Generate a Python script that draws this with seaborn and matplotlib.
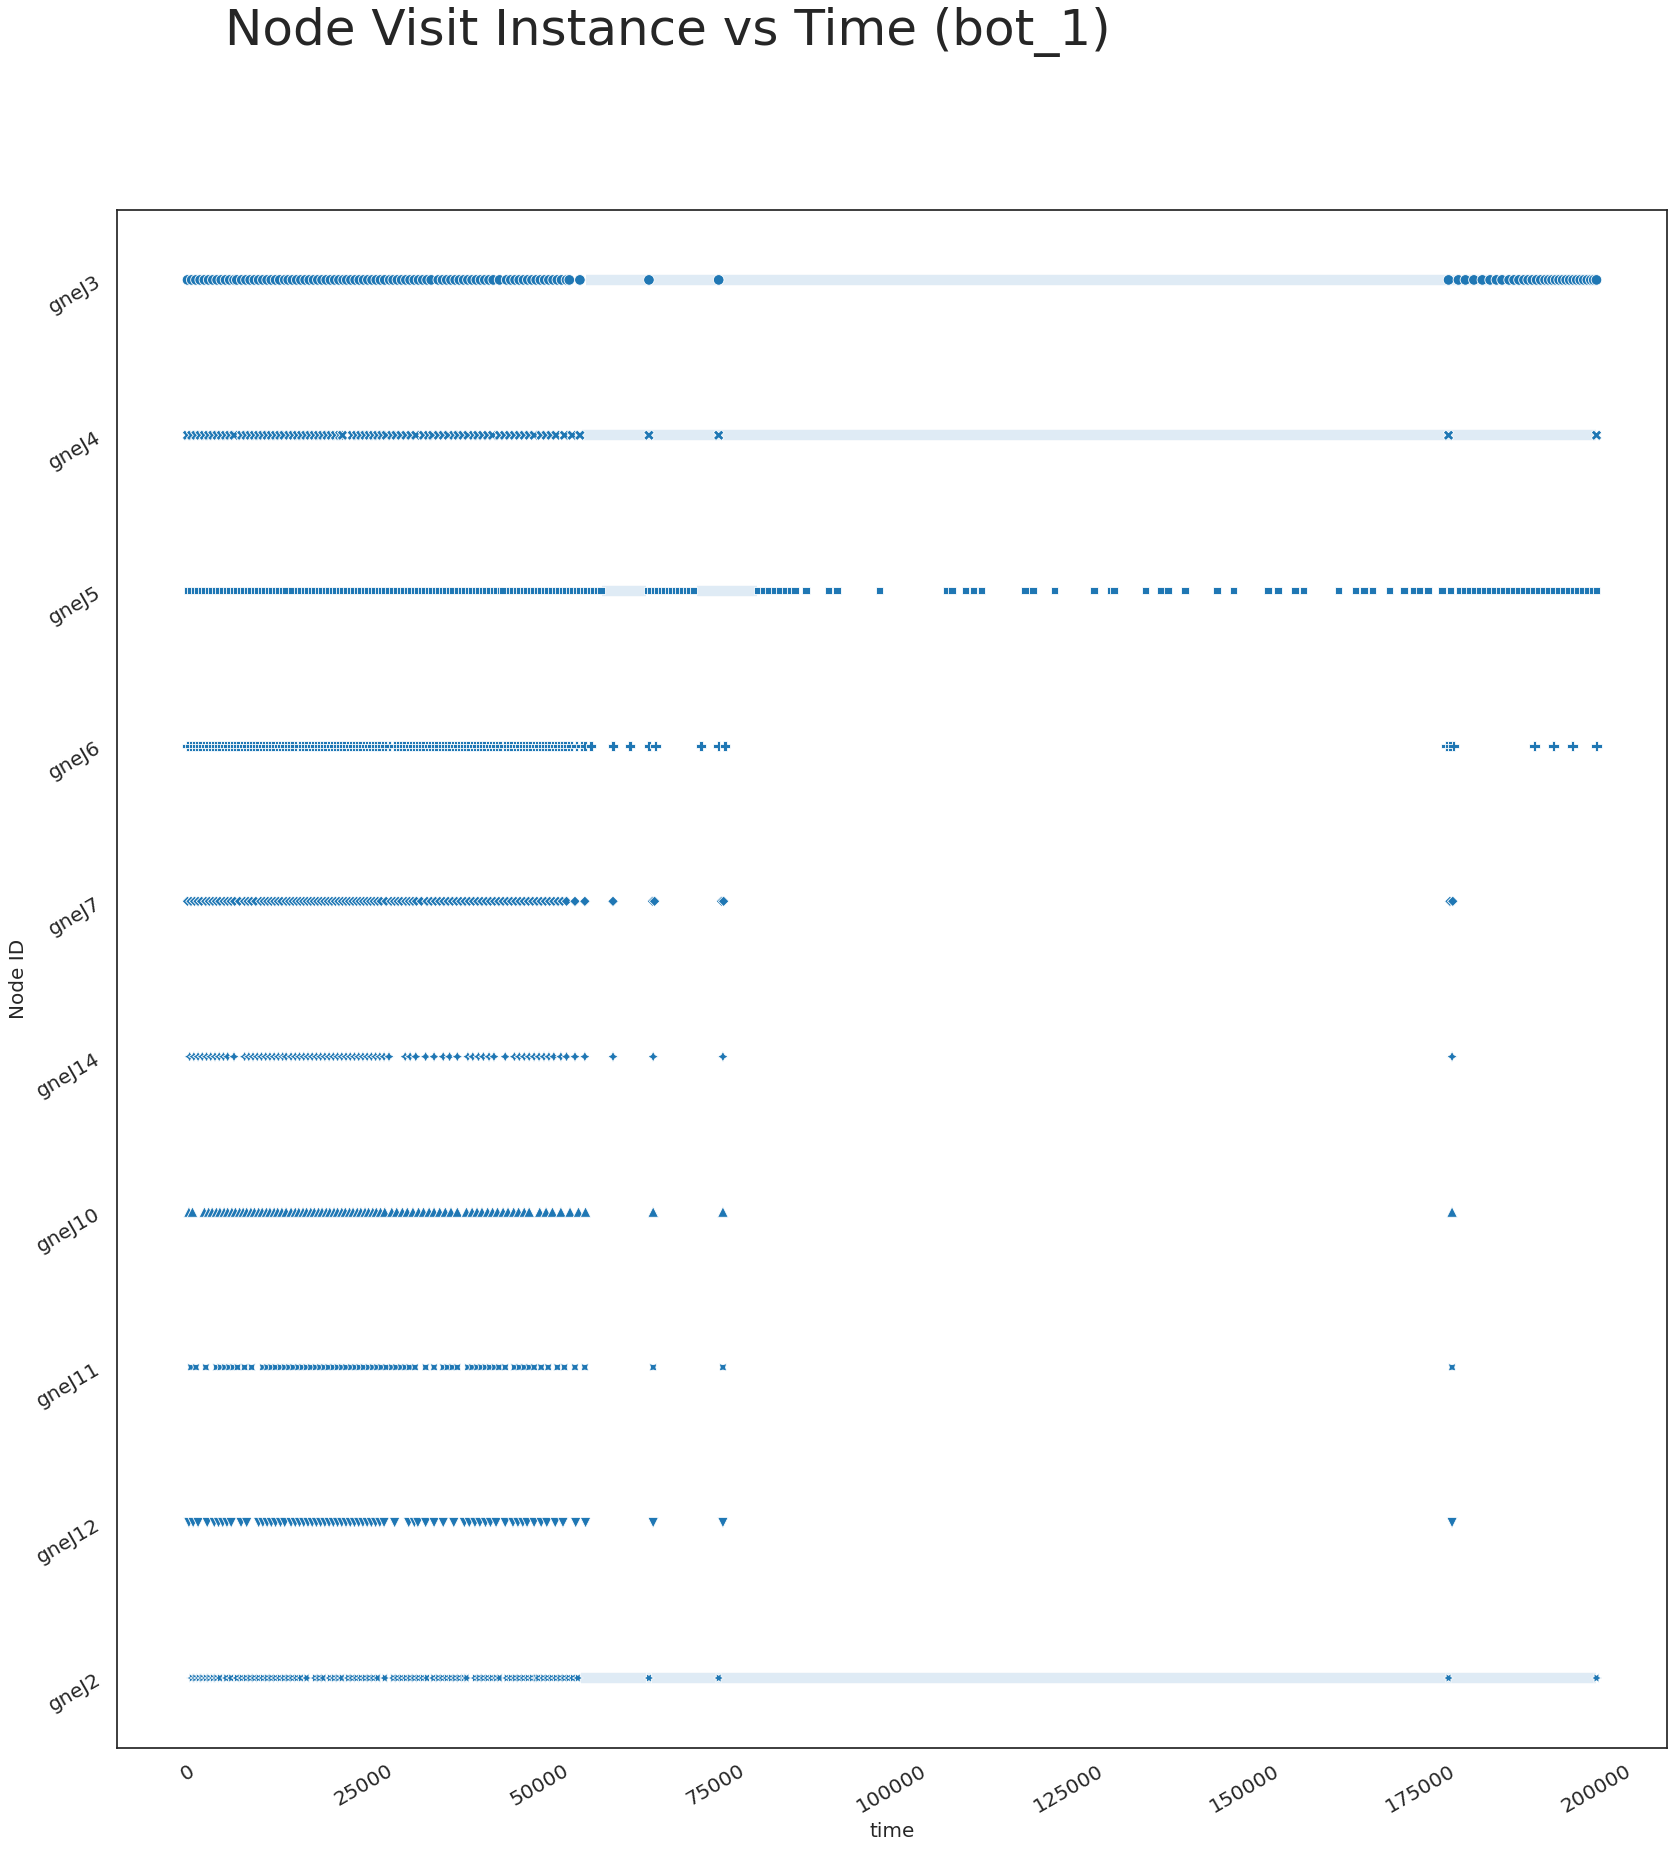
import matplotlib
matplotlib.use("Agg")
import matplotlib.pyplot as plt
import seaborn as sns
import pandas as pd

# Node order as it appears in the data (seaborn puts the first one at the top)
node_ids = ['gneJ3', 'gneJ4', 'gneJ5', 'gneJ6', 'gneJ7',
            'gneJ14', 'gneJ10', 'gneJ11', 'gneJ12', 'gneJ2']

# Visit times per node, in thousands of time steps
gnej3_k = [0.0, 0.6, 1.2, 1.8, 2.4, 3.0, 3.6, 4.2, 4.8, 5.4, 6.0, 6.6, 7.0,
           7.7, 8.3, 8.9, 9.5, 10.1, 10.7, 11.3, 11.9, 12.5, 13.1, 13.8,
           14.3, 14.9, 15.5, 16.1, 16.7, 17.3, 17.9, 18.5, 19.1, 19.7, 20.3, 20.9, 21.5, 22.1,
           22.6, 23.2, 23.8, 24.4, 25.0, 25.6, 26.2, 26.8, 27.4, 28.0, 28.7,
           29.2, 29.8, 30.4, 31.0, 31.6, 32.2, 32.8, 33.4, 34.0, 34.6,
           35.6, 36.2, 36.8, 37.4, 38.0, 38.6, 39.2, 39.8, 40.4, 41.0, 41.6, 42.2, 42.8, 43.4, 44.3,
           45.3, 45.9, 46.5, 47.1, 47.7, 48.3, 48.9, 49.5, 50.1, 50.7, 51.3, 51.9, 52.5, 53.1, 53.8,
           54.2, 55.7, 65.5, 75.4, 179.0,
           180.4, 181.4, 182.6, 183.8, 184.9, 185.8, 186.6, 187.6, 188.3, 189.0, 189.7, 190.3,
           190.9, 191.5, 192.1, 192.7, 193.2, 193.7, 194.2, 194.7, 195.2, 195.7, 196.2, 196.7,
           197.2, 197.7, 198.2, 198.7, 199.2, 199.6, 200.0]
gnej4_k = [0.0, 0.6, 1.2, 1.8, 2.4, 3.0, 3.6, 4.2, 4.8, 5.4, 6.0, 6.6,
           7.7, 8.3, 8.9, 9.5, 10.1, 10.7, 11.3, 11.9, 12.5, 13.1, 13.7,
           14.4, 15.0, 15.6, 16.2, 16.8, 17.4, 18.0, 18.6, 19.2, 19.8, 20.4, 21.0, 21.6, 22.0,
           23.4, 24.0, 24.6, 25.2, 25.8, 26.4, 27.0, 27.6, 28.2,
           29.0, 29.6, 30.3, 31.0, 31.7, 32.4, 33.5, 34.2, 34.8, 35.6, 36.3, 37.0,
           37.8, 38.4, 39.1, 39.8, 40.6, 41.2, 41.9, 42.6, 43.3,
           44.3, 45.0, 45.7, 46.4, 47.1, 47.8, 48.5, 49.2, 50.2, 50.9, 51.6, 52.3,
           53.5, 54.6, 55.7, 65.5, 75.4, 179.0, 200.0]
gnej5_k = [0.0, 0.5, 1.0, 1.5, 2.0, 2.5, 3.0, 3.5, 4.0, 4.5, 5.0, 5.5, 6.0, 6.5, 7.0, 7.5,
           8.0, 8.5, 9.0, 9.5, 10.0, 10.5, 11.0, 11.5, 12.0, 12.5, 13.0, 13.5, 14.0, 14.8,
           15.6, 16.1, 16.6, 17.1, 17.6, 18.1, 18.6, 19.1, 19.6, 20.1, 20.6, 21.1, 21.6, 22.1,
           22.6, 23.1, 23.6, 24.1, 24.6, 25.1, 25.6, 26.1, 26.6, 27.1, 27.6, 28.0, 28.5,
           29.2, 29.7, 30.2, 30.7, 31.2, 31.7, 32.2, 32.7, 33.2, 33.7, 34.2, 34.7, 35.2, 35.7,
           36.2, 36.7, 37.2, 37.7, 38.4, 38.9, 39.4, 39.9, 40.4, 40.9, 41.4, 41.9, 42.4, 42.9,
           43.4, 43.9, 44.4, 44.8, 45.7, 46.2, 46.7, 47.2, 47.7, 48.2, 48.7, 49.2, 49.7, 50.2,
           50.7, 51.2, 51.7, 52.2, 52.7, 53.2, 53.7, 54.2, 54.7, 55.2, 55.7, 56.2, 56.7, 57.2,
           57.7, 58.2, 58.7, 65.3, 65.8, 66.3, 66.8, 67.3, 67.8, 68.3, 68.8, 69.3, 69.8, 70.3,
           70.8, 71.3, 71.8, 81.0, 81.8, 82.5, 83.3, 84.1, 84.9, 85.6, 86.2,
           87.8, 91.0, 92.2, 98.2, 107.8, 108.5, 110.4, 111.6, 112.7, 118.9, 120.0, 123.1,
           128.7, 131.0, 131.5, 136.0, 138.2, 139.2, 141.6, 146.1, 148.5, 153.4, 154.8, 157.2,
           158.4, 163.4, 165.8, 167.0, 168.2, 170.6, 172.7, 174.1, 174.9, 176.1, 178.1, 179.3,
           180.6, 181.3, 182.0, 182.7, 183.4, 184.1, 184.8, 185.5, 186.2, 186.9, 187.6, 188.3,
           189.0, 189.7, 190.4, 191.1, 191.8, 192.5, 193.2, 193.9, 194.6, 195.3, 196.0, 196.7,
           197.4, 198.1, 198.8, 199.5, 200.0]
gnej6_k = [0.0, 0.45, 0.9, 1.35, 1.8, 2.25, 2.7, 3.15, 3.6, 4.05, 4.5, 4.95, 5.4, 5.85, 6.3,
           6.75, 7.2, 7.65, 8.1, 8.55, 9.0, 9.45, 9.9, 10.35, 10.8, 11.25, 11.7, 12.15, 12.6,
           13.05, 13.5, 13.95, 14.4, 14.85, 15.3, 15.9,
           16.4, 16.85, 17.3, 17.75, 18.2, 18.65, 19.1, 19.55, 20.0, 20.45, 20.9, 21.35, 21.8,
           22.25, 22.7, 23.15, 23.6, 24.05, 24.5, 24.95, 25.4, 25.85, 26.3, 26.75, 27.2, 27.65,
           28.1, 28.7, 29.4, 29.85, 30.3, 30.75, 31.2, 31.65, 32.1, 32.55, 33.0, 33.45, 33.9,
           34.35, 34.8, 35.3, 35.8, 36.25, 36.7, 37.15, 37.6, 38.05, 38.5, 38.95, 39.4, 39.85,
           40.3, 40.75, 41.2, 41.65, 42.1, 42.55, 43.0, 43.45, 43.9, 44.35, 45.0,
           45.5, 45.95, 46.4, 46.85, 47.3, 47.75, 48.2, 48.65, 49.1, 49.55, 50.0, 50.45, 50.9,
           51.35, 51.8, 52.25, 52.7, 53.15, 53.6, 54.05, 54.5, 55.2, 55.9,
           56.4, 57.3, 60.4, 62.8, 65.5, 66.4, 72.9, 75.4, 76.3, 178.7, 179.2, 179.7,
           191.2, 193.9, 196.6, 200.0]
gnej7_k = [0.0, 0.5, 1.0, 1.5, 2.0, 2.6, 3.1, 3.6, 4.1, 4.6, 5.2, 5.7, 6.2, 6.7, 7.4,
           8.1, 8.6, 9.1, 9.7, 10.4, 10.9, 11.4, 11.9, 12.4, 12.9, 13.4, 14.0, 14.5, 15.0,
           15.5, 16.0, 16.5, 17.0, 17.5, 18.0, 18.5, 19.0, 19.5, 20.0, 20.5, 21.0, 21.5, 22.0,
           22.5, 23.0, 23.5, 24.0, 24.5, 25.0, 25.5, 26.0, 26.5, 27.0, 27.5, 28.2,
           28.9, 29.4, 29.9, 30.4, 31.0, 31.5, 32.0, 32.5, 33.2,
           34.0, 34.6, 35.2, 35.8, 36.4, 37.0, 37.6, 38.2, 38.8, 39.4, 40.0, 40.6, 41.2, 41.8,
           42.4, 43.0, 43.6, 44.2, 44.8, 45.4, 46.0, 46.6, 47.2, 47.8, 48.4, 49.0, 49.6, 50.2,
           50.8, 51.4, 52.0, 52.6, 53.2, 53.8,
           55.0, 56.4, 60.4, 66.0, 66.3, 75.8, 76.1, 179.2, 179.6]
gnej14_k = [0.3, 0.9, 1.5, 2.1, 2.7, 3.3, 3.9, 4.5, 5.1, 5.7, 6.6,
            8.1, 8.7, 9.3, 9.9, 10.5, 11.1, 11.7, 12.3, 12.9, 13.5, 14.0,
            14.7, 15.3, 15.9, 16.5, 17.1, 17.7, 18.3, 18.9, 19.5, 20.1, 20.7, 21.3, 21.9, 22.5,
            23.1, 23.7, 24.3, 24.9, 25.5, 26.1, 26.7, 27.3, 27.9, 28.6,
            30.9, 31.6, 32.4, 33.8, 35.0, 36.3, 37.2, 38.3,
            39.8, 40.5, 41.3, 42.0, 42.8, 43.5, 45.1,
            46.4, 47.1, 47.8, 48.5, 49.2, 49.9, 50.6, 51.3, 52.0, 53.0, 53.8,
            55.0, 56.4, 60.4, 66.1, 76.0, 179.5]
gnej10_k = [0.2, 0.7,
            2.4, 3.0, 3.5, 4.1, 4.6, 5.2, 5.7, 6.3, 6.8, 7.4, 7.9,
            8.4, 9.0, 9.5, 10.1, 10.6, 11.2, 11.7, 12.3, 12.8, 13.4, 14.0,
            14.7, 15.3, 15.8, 16.4, 16.9, 17.5, 18.0, 18.6, 19.1, 19.7, 20.2, 20.8, 21.3, 21.9,
            22.4, 23.0, 23.5, 24.1, 24.6, 25.2, 25.7, 26.3, 26.8, 27.4, 28.0,
            29.0, 29.7, 30.5, 31.2, 32.0, 32.8, 33.5, 34.3, 35.0, 35.8, 36.6, 37.4, 38.3,
            39.6, 40.4, 41.1, 41.8, 42.6, 43.3, 44.0, 44.8, 45.5, 46.3, 47.0, 47.8, 48.5,
            50.0, 50.9, 51.8, 53.0, 54.3, 55.5, 56.5, 66.1, 76.0, 179.5]
gnej11_k = [0.5, 1.2, 2.6, 4.1, 4.7, 5.3, 5.9, 6.5, 7.1, 8.1, 9.1,
            10.7, 11.3, 11.9, 12.5, 13.2, 13.8, 14.4, 15.0, 15.7, 16.3, 16.9, 17.5, 18.2, 18.8,
            19.4, 20.0, 20.7, 21.3, 21.9, 22.5, 23.2, 23.8, 24.4, 25.0, 25.7, 26.3, 26.9, 27.5,
            28.2, 29.0, 29.6, 30.3, 30.9, 31.5, 32.3, 33.8, 35.0, 36.3, 36.9, 37.6, 38.3,
            39.8, 40.4, 41.1, 41.7, 42.3, 42.9, 43.6, 44.2, 45.1,
            46.4, 47.1, 47.8, 48.5, 49.2, 50.2, 51.2, 52.5, 53.5,
            55.0, 56.4, 66.1, 76.0, 179.5]
gnej12_k = [0.2, 0.8, 1.5, 2.8, 3.8, 4.4, 5.0, 5.6, 6.2, 7.6, 8.4,
            10.1, 10.7, 11.3, 11.9, 12.5, 13.2, 13.8,
            14.7, 15.3, 15.9, 16.5, 17.1, 17.7, 18.3, 18.9, 19.5, 20.1, 20.7, 21.3, 21.9, 22.5,
            23.1, 23.7, 24.3, 24.9, 25.5, 26.1, 26.7, 27.3, 27.9,
            29.4, 31.4, 32.2, 32.7, 33.8, 35.0, 36.3, 37.8,
            39.3, 40.0, 40.8, 41.5, 42.3, 43.0, 43.8, 45.1,
            46.2, 46.9, 47.6, 48.2, 49.2, 50.2, 51.0, 52.2, 53.3,
            55.1, 56.5, 66.1, 76.0, 179.5]
gnej2_k = [0.6, 1.1, 1.6, 2.1, 2.6, 3.1, 3.6, 4.1, 4.6, 5.5, 6.2, 7.0,
           7.7, 8.3, 8.9, 9.5, 10.1, 10.7, 11.3, 11.9, 12.5, 13.1, 13.7, 14.3, 14.9, 15.5,
           16.1, 16.9, 18.1, 18.7, 19.3, 20.2, 20.8, 21.4, 21.9,
           22.8, 23.4, 24.0, 24.6, 25.2, 25.8, 26.4, 27.0, 28.0,
           29.2, 29.8, 30.4, 31.0, 31.6, 32.2, 32.8, 33.4, 34.0, 34.9,
           35.6, 36.2, 36.8, 37.4, 38.0, 38.6, 39.2, 39.6,
           40.8, 41.4, 42.0, 42.6, 43.2, 43.8, 44.3,
           45.3, 45.9, 46.5, 47.1, 47.7, 48.3, 48.9, 49.5, 49.8,
           50.5, 51.1, 51.7, 52.3, 52.9, 53.5, 54.1, 54.7, 55.4,
           65.5, 75.4, 179.0, 200.0]

# Stretches where visits are so frequent that the markers merge into a pale band
band_nodes = ['gneJ3', 'gneJ4', 'gneJ2', 'gneJ5', 'gneJ5']
band_start_k = [56.5, 56.0, 55.8, 58.9, 72.3]
band_end_k = [200.0, 200.0, 200.0, 65.1, 80.9]

visits = [gnej3_k, gnej4_k, gnej5_k, gnej6_k, gnej7_k,
          gnej14_k, gnej10_k, gnej11_k, gnej12_k, gnej2_k]

rows = []
for node, times in zip(node_ids, visits):
    for t in times:
        rows.append({'time': t * 1000, 'Node ID': node})
df = pd.DataFrame(rows)

sns.set_style("white")
sns.set_context("notebook", font_scale=1.2,
                rc={'xtick.labelsize': 14.5, 'ytick.labelsize': 14.5})

fig = plt.figure(figsize=(16.77, 18.52), dpi=100)
ax = fig.add_subplot(111)
fig.subplots_adjust(left=0.0698, right=0.994, top=0.8866, bottom=0.0562)

sns.scatterplot(data=df, x='time', y='Node ID', style='Node ID', s=58,
                color='#1f77b4', legend=False, ax=ax)

# pale bands for the very dense stretches, under the markers
ax.hlines(band_nodes, [s * 1000 for s in band_start_k], [e * 1000 for e in band_end_k],
          colors='#dfebf5', linewidth=7.5, zorder=0.5)

ax.set_xlabel('time')
ax.set_ylabel('Node ID')
plt.xticks(rotation=30)
plt.yticks(rotation=30)

fig.suptitle('Node Visit Instance vs Time (bot_1)', fontsize=36, x=0.398, y=0.996, va='top')

fig.savefig('out.png', dpi=100)
